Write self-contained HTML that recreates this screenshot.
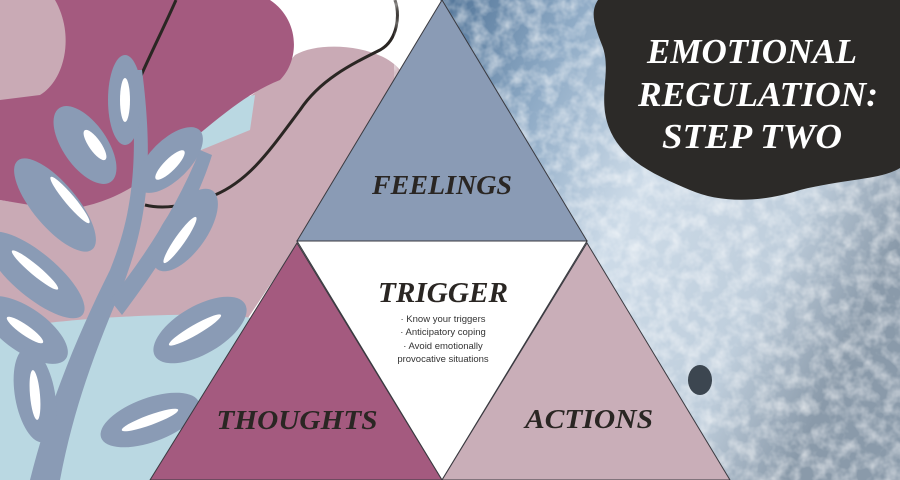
<!DOCTYPE html>
<html><head><meta charset="utf-8"><style>
html,body{margin:0;padding:0;width:900px;height:480px;overflow:hidden;background:#fff}
svg{display:block}
.t{font-family:"Liberation Serif",serif;font-weight:bold;font-style:italic;fill:#2a2623}
.s{font-family:"Liberation Sans",sans-serif;font-size:9.5px;fill:#333}
</style></head><body>
<svg width="900" height="480" viewBox="0 0 900 480" xmlns="http://www.w3.org/2000/svg">
<defs>
<linearGradient id="sea" x1="0" y1="0" x2="1" y2="0.5">
<stop offset="0" stop-color="#4f7296"/><stop offset="0.25" stop-color="#8fabc6"/>
<stop offset="0.5" stop-color="#cddbe8"/><stop offset="0.8" stop-color="#bfcedc"/><stop offset="1" stop-color="#8a9aaa"/>
</linearGradient>
<filter id="n"><feTurbulence type="fractalNoise" baseFrequency="0.07" numOctaves="3" seed="3"/><feColorMatrix values="0 0 0 0 1  0 0 0 0 1  0 0 0 0 1  0 0 0 1.4 -0.5"/></filter>
</defs>
<rect width="900" height="480" fill="#fff"/>
<path d="M0,200 C60,210 100,200 130,170 C170,140 250,110 295,55 C320,40 380,45 400,70 L300,240 L240,330 L0,345 Z" fill="#c9aab5"/>
<path d="M140,150 C180,110 230,100 255,95 L250,130 L140,175 Z" fill="#bad8e2"/>
<path d="M0,0 L270,0 C300,20 300,60 280,80 C250,92 225,112 180,150 C150,175 120,205 60,210 L0,200 Z" fill="#a45a7f"/>
<path d="M0,0 L55,0 C75,35 65,80 40,95 L0,100 Z" fill="#c9aab5"/>
<path d="M0,330 C60,318 200,310 252,318 L150,480 L0,480 Z" fill="#bad8e2"/>
<path d="M176,0 C165,25 150,55 140,78 M395,0 C400,15 398,40 380,50 C350,65 320,80 300,110 C270,150 250,180 215,195 C190,205 165,210 145,205" fill="none" stroke="#2a2623" stroke-width="3"/>
<g fill="#8a9bb5">
<path d="M30,480 C50,400 80,330 110,270 C130,220 140,170 130,70 L142,70 C155,170 145,225 125,280 C100,340 75,400 60,480 Z"/>
<path d="M110,300 C150,250 180,200 200,150 L212,155 C195,210 160,265 122,315 Z"/>
<ellipse cx="125" cy="100" rx="17" ry="45"/>
<ellipse cx="85" cy="145" rx="22" ry="45" transform="rotate(-35 85 145)"/>
<ellipse cx="55" cy="205" rx="22" ry="58" transform="rotate(-40 55 205)"/>
<ellipse cx="35" cy="275" rx="22" ry="62" transform="rotate(-50 35 275)"/>
<ellipse cx="25" cy="330" rx="22" ry="50" transform="rotate(-55 25 330)"/>
<ellipse cx="35" cy="395" rx="20" ry="48" transform="rotate(-10 35 395)"/>
<ellipse cx="170" cy="160" rx="20" ry="42" transform="rotate(45 170 160)"/>
<ellipse cx="185" cy="230" rx="22" ry="48" transform="rotate(35 185 230)"/>
<ellipse cx="200" cy="330" rx="24" ry="52" transform="rotate(60 200 330)"/>
<ellipse cx="150" cy="420" rx="22" ry="52" transform="rotate(70 150 420)"/>
</g>
<g fill="#fff">
<ellipse cx="125" cy="100" rx="5" ry="22"/>
<ellipse cx="95" cy="145" rx="6" ry="18" transform="rotate(-35 95 145)"/>
<ellipse cx="70" cy="200" rx="5" ry="30" transform="rotate(-40 70 200)"/>
<ellipse cx="35" cy="270" rx="5" ry="30" transform="rotate(-50 35 270)"/>
<ellipse cx="25" cy="330" rx="5" ry="22" transform="rotate(-55 25 330)"/>
<ellipse cx="35" cy="395" rx="5" ry="25" transform="rotate(-5 35 395)"/>
<ellipse cx="170" cy="165" rx="6" ry="20" transform="rotate(45 170 165)"/>
<ellipse cx="180" cy="240" rx="5" ry="28" transform="rotate(35 180 240)"/>
<ellipse cx="195" cy="330" rx="5" ry="30" transform="rotate(60 195 330)"/>
<ellipse cx="150" cy="420" rx="5" ry="30" transform="rotate(70 150 420)"/>
</g>
<polygon points="440,0 900,0 900,480 730,480" fill="url(#sea)"/>
<polygon points="440,0 900,0 900,480 730,480" filter="url(#n)" opacity="0.75"/>
<ellipse cx="700" cy="380" rx="12" ry="15" fill="#3c4650"/>
<path d="M598,0 L900,0 L900,168 C880,180 850,178 800,190 C760,203 720,203 690,190 C655,175 620,160 608,125 C598,95 612,70 602,45 C594,25 590,12 598,0 Z" fill="#2c2a28"/>
<text class="t" x="752" y="63" text-anchor="middle" font-size="35" style="fill:#fff" textLength="210" lengthAdjust="spacingAndGlyphs">EMOTIONAL</text>
<text class="t" x="758" y="106" text-anchor="middle" font-size="35" style="fill:#fff" textLength="240" lengthAdjust="spacingAndGlyphs">REGULATION:</text>
<text class="t" x="752" y="148" text-anchor="middle" font-size="35" style="fill:#fff" textLength="180" lengthAdjust="spacingAndGlyphs">STEP TWO</text>
<polygon points="442,0 587,241 297,241" fill="#8a9bb5" stroke="#3a3a40" stroke-width="1"/>
<polygon points="297,241 587,241 442,480" fill="#fff" stroke="#3a3a40" stroke-width="1"/>
<polygon points="297,243 442,480 150,480" fill="#a45a7f" stroke="#3a3a40" stroke-width="1"/>
<polygon points="587,243 730,480 442,480" fill="#c9aeb8" stroke="#3a3a40" stroke-width="1"/>
<text class="t" x="442" y="194" text-anchor="middle" font-size="27" textLength="140" lengthAdjust="spacingAndGlyphs">FEELINGS</text>
<text class="t" x="443" y="302" text-anchor="middle" font-size="28" textLength="130" lengthAdjust="spacingAndGlyphs">TRIGGER</text>
<text class="s" x="443" y="322" text-anchor="middle">· Know your triggers</text>
<text class="s" x="443" y="335" text-anchor="middle">· Anticipatory coping</text>
<text class="s" x="443" y="349" text-anchor="middle">· Avoid emotionally</text>
<text class="s" x="443" y="362" text-anchor="middle">provocative situations</text>
<text class="t" x="297" y="429" text-anchor="middle" font-size="27" textLength="161" lengthAdjust="spacingAndGlyphs">THOUGHTS</text>
<text class="t" x="589" y="428" text-anchor="middle" font-size="27" textLength="128" lengthAdjust="spacingAndGlyphs">ACTIONS</text>
</svg>
</body></html>
